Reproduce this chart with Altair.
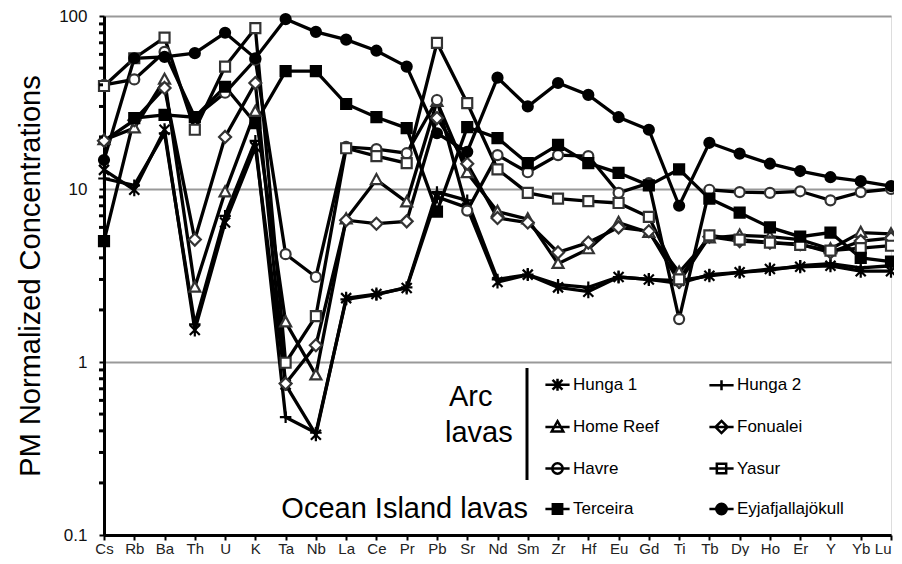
import altair as alt
import pandas as pd

FONT = "Liberation Sans"

elements = ["Cs", "Rb", "Ba", "Th", "U", "K", "Ta", "Nb", "La", "Ce", "Pr", "Pb", "Sr", "Nd",
            "Sm", "Zr", "Hf", "Eu", "Gd", "Ti", "Tb", "Dy", "Ho", "Er", "Y", "Yb", "Lu"]

series_names = ["Hunga 1", "Hunga 2", "Home Reef", "Fonualei", "Havre", "Yasur",
                "Terceira", "Eyjafjallajökull"]

hunga1 = [12.9, 9.9, 22, 1.53, 6.4, 17.5, 0.74, 0.38, 2.34, 2.47, 2.68, 9.0, 7.8, 2.9, 3.2,
          2.7, 2.55, 3.1, 3.0, 2.95, 3.15, 3.3, 3.45, 3.55, 3.6, 3.35, 3.35]
hunga2 = [11.5, 10.5, 21, 1.65, 7.0, 19, 0.48, 0.39, 2.3, 2.45, 2.7, 9.6, 8.6, 3.0, 3.2,
          2.8, 2.7, 3.1, 3.0, 2.85, 3.2, 3.3, 3.4, 3.6, 3.7, 3.5, 3.6]
home_reef = [19.2, 22.5, 43, 2.7, 9.6, 28, 1.7, 0.84, 6.7, 11.3, 8.4, 32, 12.4, 7.4, 6.7,
             3.7, 4.5, 6.4, 5.6, 3.3, 5.2, 5.4, 5.3, 5.1, 4.5, 5.6, 5.5]
fonualei = [19, 25, 38.4, 5.1, 20, 41, 0.75, 1.25, 6.6, 6.3, 6.5, 25.7, 14, 6.8, 6.4,
            4.3, 4.9, 6.0, 5.7, 2.9, 5.3, 5.0, 4.9, 4.8, 4.3, 5.0, 5.2]
havre = [40, 43, 62, 26, 36, 56, 4.2, 3.1, 17.5, 17.0, 16.1, 32.7, 7.5, 15.7, 12.5,
         15.7, 15.5, 9.5, 10.8, 1.77, 9.9, 9.6, 9.5, 9.7, 8.6, 9.6, 10]
yasur = [39.4, 57, 75, 22, 51, 85, 0.99, 1.84, 17.2, 15.5, 14.1, 70, 31.4, 13.0, 9.5,
         8.8, 8.5, 8.3, 6.9, 3.0, 5.4, 5.1, 4.9, 4.75, 4.4, 4.55, 4.7]
terceira = [5.0, 25.7, 26.8, 26, 39, 24, 48, 48, 31, 26, 22.5, 7.4, 22.8, 19.7, 14.1,
            18, 14.1, 12.4, 10.5, 13, 8.8, 7.3, 6.0, 5.3, 5.6, 4.0, 3.8]
eyja = [14.7, 57, 58, 61, 80, 57, 96, 81, 73, 63, 51, 21, 16.4, 44, 30,
        41, 35, 26, 22, 8.0, 18.5, 16, 14, 12.7, 11.7, 11.1, 10.4]

series_values = [hunga1, hunga2, home_reef, fonualei, havre, yasur, terceira, eyja]

y_labels = [0.1, 1, 10, 100]
minor_ticks = [0.2, 0.3, 0.4, 0.5, 0.6, 0.7, 0.8, 0.9,
               2, 3, 4, 5, 6, 7, 8, 9,
               20, 30, 40, 50, 60, 70, 80, 90]

rows = []
for name, vals in zip(series_names, series_values):
    for i, (el, v) in enumerate(zip(elements, vals)):
        rows.append({"series": name, "el": el, "idx": i, "v": v})
df = pd.DataFrame(rows)

# marker styles
plot_shapes = [
    "M-1,-1L1,1M-1,1L1,-1M0,-1.3L0,1.3",
    "M-1.15,0L1.15,0M0,-1.15L0,1.15",
    "M0,-1.15L1.1,0.85L-1.1,0.85Z",
    "M0,-1.2L1.2,0L0,1.2L-1.2,0Z",
    "circle",
    "square",
    "square",
    "circle",
]
fills = ["black", "black", "white", "white", "white", "white", "black", "black"]
strokes = ["black", "black", "#333333", "#333333", "#333333", "#333333", "black", "black"]
stroke_widths = [2.2, 2.2, 1.6, 1.6, 1.6, 1.6, 1, 1]
sizes = [100, 100, 120, 110, 120, 115, 125, 155]

L = "M-2.2,0L2.2,0"
legend_shapes = [
    L + "M-0.9,-0.9L0.9,0.9M-0.9,0.9L0.9,-0.9M0,-1.1L0,1.1",
    L + "M0,-0.9L0,0.9",
    L + "M0,-1.05L1.05,0.8L-1.05,0.8Z",
    L + "M0,-1.1L1.1,0L0,1.1L-1.1,0Z",
    L + "M0.95,0A0.95,0.95,0,1,1,-0.95,0A0.95,0.95,0,1,1,0.95,0Z",
    L + "M-0.85,-0.85L0.85,-0.85L0.85,0.85L-0.85,0.85Z",
    L + "M-0.85,-0.85L0.85,-0.85L0.85,0.85L-0.85,0.85Z",
    L + "M0.95,0A0.95,0.95,0,1,1,-0.95,0A0.95,0.95,0,1,1,0.95,0Z",
]
legend_strokes = ["black"] * 8

x_enc = alt.X(
    "el:N", sort=elements,
    scale=alt.Scale(type="point", padding=0, domain=elements),
    axis=alt.Axis(title=None, labelAngle=0, labelFontSize=15, labelFont=FONT,
                  labelColor="#222222", labelPadding=1, tickSize=5, tickWidth=2,
                  labelAlign={"condition": {"test": "datum.value == 'Lu'", "value": "right"},
                              "value": "center"},
                  tickColor="black", domainColor="black", domainWidth=3, grid=False),
)
y_scale = alt.Scale(type="log", domain=[0.1, 100], nice=False)
y_enc = alt.Y(
    "v:Q", scale=y_scale,
    axis=alt.Axis(values=y_labels, format="~g", title="PM Normalized Concentrations",
                  titleFontSize=29, titleFont=FONT, titleFontWeight="normal",
                  titleColor="black", titleX=-74, titleY=259.5, titleAngle=270,
                  titleAlign="center", titleBaseline="middle",
                  labelFontSize=17, labelFont=FONT, labelColor="#111111",
                  labelPadding=12, tickSize=5, tickWidth=2, tickColor="black",
                  domainColor="black", domainWidth=3,
                  grid=True, gridColor="#999999", gridWidth=2),
)

lines = alt.Chart(df).mark_line(color="black", strokeWidth=3.3).encode(
    x=x_enc, y=y_enc, detail="series:N", order="idx:Q"
)

points = alt.Chart(df).mark_point(opacity=1, fillOpacity=1, strokeOpacity=1).encode(
    x=x_enc, y=y_enc,
    shape=alt.Shape("series:N", scale=alt.Scale(domain=series_names, range=plot_shapes), legend=None),
    fill=alt.Fill("series:N", scale=alt.Scale(domain=series_names, range=fills), legend=None),
    stroke=alt.Stroke("series:N", scale=alt.Scale(domain=series_names, range=strokes), legend=None),
    strokeWidth=alt.StrokeWidth("series:N", scale=alt.Scale(domain=series_names, range=stroke_widths), legend=None),
    size=alt.Size("series:N", scale=alt.Scale(domain=series_names, range=sizes), legend=None),
)

leg = alt.Legend(
    title=None, orient="none", legendX=445, legendY=360, columns=2, direction="horizontal",
    columnPadding=45, rowPadding=19.5, padding=0, labelFontSize=17, labelFont=FONT,
    labelColor="black", labelOffset=7, symbolSize=121, symbolStrokeWidth=2.5,
    symbolStrokeColor="black", symbolOpacity=1, labelLimit=300,
)
leg_df = pd.DataFrame({"lg": series_names, "el": ["Cs"] * len(series_names),
                       "v": [None] * len(series_names)})
legend_layer = alt.Chart(leg_df).mark_point(opacity=1, strokeWidth=2.5).encode(
    x=x_enc, y=y_enc,
    shape=alt.Shape("lg:N", scale=alt.Scale(domain=series_names, range=legend_shapes), legend=leg),
    fill=alt.Fill("lg:N", scale=alt.Scale(domain=series_names, range=fills), legend=leg),
    stroke=alt.Stroke("lg:N", scale=alt.Scale(domain=series_names, range=legend_strokes), legend=leg),
)

minor = alt.Chart(pd.DataFrame({"v": minor_ticks})).mark_rule(
    color="black", strokeWidth=3
).encode(y=y_enc, x=alt.value(-5), x2=alt.value(-1))

one = pd.DataFrame({"k": [0]})
arc_t = alt.Chart(one).mark_text(text="Arc", fontSize=29, font=FONT, align="left",
                                 baseline="alphabetic", color="black").encode(
    x=alt.value(345), y=alt.value(390))
lavas_t = alt.Chart(one).mark_text(text="lavas", fontSize=29, font=FONT, align="left",
                                   baseline="alphabetic", color="black").encode(
    x=alt.value(341), y=alt.value(426))
ocean_t = alt.Chart(one).mark_text(text="Ocean Island lavas", fontSize=29, font=FONT,
                                   align="right", baseline="alphabetic", color="black").encode(
    x=alt.value(424), y=alt.value(502))
sep = alt.Chart(one).mark_rule(color="black", strokeWidth=3).encode(
    x=alt.value(423), y=alt.value(352), y2=alt.value(464))

chart = alt.layer(lines, points, legend_layer, minor, arc_t, lavas_t, ocean_t, sep).resolve_scale(
    shape="independent", fill="independent", stroke="independent"
).properties(
    width=787, height=519,
    autosize=alt.AutoSizeParams(type="none"),
    padding={"left": 96, "top": 8, "right": 3, "bottom": 21},
).configure_view(stroke="black", strokeWidth=3).configure(background="white")

chart.save("out.html", embed_options={"renderer": "svg", "actions": False})
